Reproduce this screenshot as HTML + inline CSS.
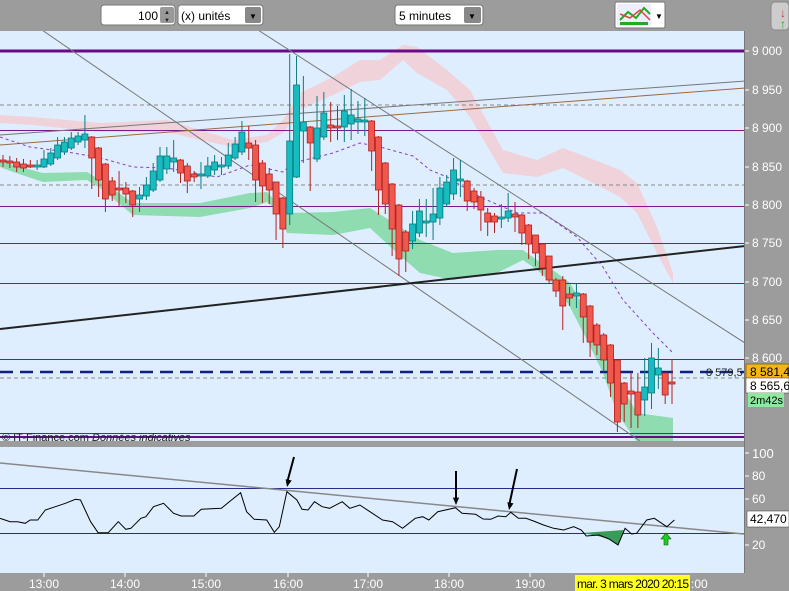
<!DOCTYPE html>
<html><head><meta charset="utf-8"><style>
body{margin:0;width:789px;height:591px;overflow:hidden;background:#9c9c9c;font-family:"Liberation Sans",sans-serif}
svg{display:block}
</style></head><body>
<svg id="s" width="789" height="591" xmlns="http://www.w3.org/2000/svg" font-family="Liberation Sans, sans-serif">
<rect width="789" height="591" fill="#9c9c9c"/>
<!-- toolbar -->
<rect x="101" y="5" width="74" height="20" rx="3" fill="#fff" stroke="#777"/>
<text x="158" y="20" font-size="12" text-anchor="end">100</text>
<rect x="160" y="7" width="14" height="16" rx="2" fill="#999"/>
<text x="167" y="14" font-size="6" text-anchor="middle" fill="#222">▲</text>
<text x="167" y="22" font-size="6" text-anchor="middle" fill="#222">▼</text>
<rect x="178" y="5" width="85" height="20" rx="3" fill="#fff" stroke="#777"/>
<text x="181" y="20" font-size="12">(x) unités</text>
<rect x="245" y="7" width="16" height="16" rx="2" fill="#888"/>
<text x="253" y="19" font-size="8" text-anchor="middle">▼</text>
<rect x="395" y="5" width="88" height="20" rx="3" fill="#fff" stroke="#777"/>
<text x="399" y="20" font-size="12">5 minutes</text>
<rect x="464" y="7" width="17" height="16" rx="2" fill="#888"/>
<text x="472" y="19" font-size="8" text-anchor="middle">▼</text>
<rect x="615" y="2" width="50" height="26" rx="2" fill="#fff" stroke="#777"/>
<rect x="617" y="4" width="34" height="22" fill="#eef"/>
<polyline points="620,20 628,12 636,18 644,8 650,14" fill="none" stroke="#2a2" stroke-width="2"/>
<polyline points="620,14 630,18 640,10 650,20" fill="none" stroke="#d44" stroke-width="1.5"/>
<rect x="620" y="22" width="28" height="3" fill="#2a2"/>
<text x="659" y="19" font-size="8" text-anchor="middle">▼</text>
<rect x="771" y="2" width="18" height="28" rx="4" fill="#ccc" stroke="#888"/>
<text x="780" y="17" font-size="12" fill="#c33">↓</text>
<text x="780" y="28" font-size="12" fill="#2a2">↑</text>
<!-- main chart -->
<rect x="0" y="31" width="744" height="410" fill="#deeefe"/>
<rect x="0" y="447" width="744" height="126" fill="#deeefe"/>
<line x1="744.5" y1="31" x2="744.5" y2="573" stroke="#777"/>
<g id="main"></g>
<g id="ind"></g>
<!-- axes labels -->
<g font-size="12" fill="#fff">
<text x="752" y="55">9 000</text><text x="752" y="94">8 950</text><text x="752" y="132">8 900</text>
<text x="752" y="171">8 850</text><text x="752" y="209">8 800</text><text x="752" y="247">8 750</text>
<text x="752" y="286">8 700</text><text x="752" y="324">8 650</text><text x="752" y="362">8 600</text>
<text x="752" y="458" font-size="13">100</text><text x="752" y="480">80</text><text x="752" y="503">60</text><text x="752" y="549">20</text>
</g>
<g stroke="#fff">
<line x1="745" y1="51" x2="749" y2="51"/><line x1="745" y1="90" x2="749" y2="90"/><line x1="745" y1="128" x2="749" y2="128"/><line x1="745" y1="167" x2="749" y2="167"/><line x1="745" y1="205" x2="749" y2="205"/><line x1="745" y1="243" x2="749" y2="243"/><line x1="745" y1="282" x2="749" y2="282"/><line x1="745" y1="320" x2="749" y2="320"/><line x1="745" y1="358" x2="749" y2="358"/>
<line x1="745" y1="453" x2="749" y2="453"/><line x1="745" y1="476" x2="749" y2="476"/><line x1="745" y1="499" x2="749" y2="499"/><line x1="745" y1="545" x2="749" y2="545"/>
</g>
<rect x="746" y="364" width="43" height="15" fill="#f3b519" stroke="#333" stroke-width="0.5"/>
<text x="750" y="376" font-size="12">8 581,4</text>
<rect x="746" y="378" width="43" height="15" fill="#fff" stroke="#333" stroke-width="0.5"/>
<text x="750" y="390" font-size="12">8 565,6</text>
<rect x="748" y="393" width="36" height="14" fill="#90e8a0"/>
<text x="750" y="404" font-size="11">2m42s</text>
<rect x="747" y="511" width="42" height="16" fill="#fff" stroke="#333" stroke-width="0.5"/>
<text x="750" y="523" font-size="12">42,470</text>
<!-- time axis -->
<g font-size="12" fill="#fff" text-anchor="middle">
<text x="44" y="588">13:00</text><text x="125" y="588">14:00</text><text x="206" y="588">15:00</text>
<text x="288" y="588">16:00</text><text x="368" y="588">17:00</text><text x="449" y="588">18:00</text><text x="530" y="588">19:00</text>
</g>
<text x="691" y="588" font-size="12" fill="#fff">:00</text>
<g stroke="#fff"><line x1="44" y1="573" x2="44" y2="577"/><line x1="125" y1="573" x2="125" y2="577"/><line x1="206" y1="573" x2="206" y2="577"/><line x1="288" y1="573" x2="288" y2="577"/><line x1="368" y1="573" x2="368" y2="577"/><line x1="449" y1="573" x2="449" y2="577"/><line x1="530" y1="573" x2="530" y2="577"/></g>
<rect x="575" y="575" width="115" height="16" fill="#ffff20"/>
<text x="577" y="588" font-size="12" textLength="112">mar. 3 mars 2020 20:15</text>
</svg>
<script>
var NS="http://www.w3.org/2000/svg",M=document.getElementById("main"),I=document.getElementById("ind");
function el(p,t,a){var e=document.createElementNS(NS,t);for(var k in a)e.setAttribute(k,a[k]);p.appendChild(e);return e;}
function band(pts){var top=pts.map(p=>p[0]+","+p[1]).join(" "),bot=pts.slice().reverse().map(p=>p[0]+","+p[2]).join(" ");return top+" "+bot;}
var cp=document.createElementNS(NS,"clipPath");cp.id="c1";el(cp,"rect",{x:0,y:31,width:744,height:410});document.querySelector("svg").appendChild(cp);
M.setAttribute("clip-path","url(#c1)");
el(M,"polygon",{points:band([[0,115,123],[33,117,125],[100,123,132],[167,120,132],[200,130,140],[233,140,147],[267,135,142],[283,120,133],[300,93,110],[333,77,95],[360,60,82],[380,60,80],[403,45,60],[417,47,73],[447,70,90],[470,90,117],[503,150,173],[537,160,177],[563,148,168],[587,157,180],[620,170,197],[637,183,213],[657,227,253],[673,273,283]]),fill:"#f0d2da"});
el(M,"polygon",{points:band([[0,160,167],[13,165,172],[43,173,182],[87,172,180],[100,180,188],[133,203,215],[200,203,217],[250,193,208],[267,192,202],[277,203,210],[287,213,233],[333,212,235],[370,208,228],[397,225,253],[420,240,273],[453,253,280],[497,250,273],[523,250,260],[537,260,270],[557,273,287],[570,283,307],[587,313,340],[603,347,373],[617,377,413],[637,413,442],[673,418,442]]),fill:"#8edcb0"});
[[105,"#888"],[185,"#888"],[378,"#888"]].forEach(function(l){el(M,"line",{x1:0,y1:l[0],x2:744,y2:l[0],stroke:l[1],"stroke-dasharray":"4,3"});});
[130,206,243,283,359,433].forEach(function(y){el(M,"line",{x1:0,y1:y+0.5,x2:744,y2:y+0.5,stroke:"#7a1a8a"});});
el(M,"line",{x1:0,y1:51,x2:744,y2:51,stroke:"#6a0a8a","stroke-width":3});
el(M,"line",{x1:0,y1:437,x2:744,y2:437,stroke:"#6a0a8a","stroke-width":2});
el(M,"line",{x1:42,y1:30,x2:640,y2:441,stroke:"#777"});
el(M,"line",{x1:258,y1:30,x2:745,y2:343,stroke:"#777"});
el(M,"line",{x1:0,y1:135,x2:745,y2:81,stroke:"#777"});
el(M,"line",{x1:0,y1:145,x2:745,y2:88,stroke:"#9a6a40"});
el(M,"line",{x1:0,y1:329,x2:745,y2:246,stroke:"#222","stroke-width":2});
el(M,"polyline",{points:"0,137 30,147 67,152 97,157 133,167 167,168 217,177 250,165 283,172 293,163 333,153 360,143 380,147 413,156 430,170 447,177 480,197 517,213 543,213 577,237 603,267 623,300 653,333 672,352",fill:"none",stroke:"#8a3ac8","stroke-dasharray":"3,3"});
el(M,"line",{x1:0,y1:372,x2:744,y2:372,stroke:"#102080","stroke-width":2.5,"stroke-dasharray":"13,7"});
var C=[["r",160,162,155,167],["r",161,163,156,168],["r",162,167,158,172],["r",164,168,159,172],["r",165,166,160,168],["g",165,166,160,170],["g",159,167,150,168],["g",153,164,148,166],["g",145,158,137,160],["g",142,152,137,155],["g",138,148,132,150],["g",136,142,132,145],["g",134,140,115,148],["r",137,158,136,189],["r",148,180,147,197],["r",164,199,163,212],["r",181,195,177,201],["r",188,189,171,207],["r",188,194,182,203],["r",191,205,190,217],["g",195,199,187,212],["g",185,196,177,200],["g",171,190,163,192],["g",156,180,147,182],["g",156,169,147,174],["g",158,162,140,172],["r",160,173,159,183],["r",166,181,163,193],["r",174,177,171,182],["g",174,175,162,189],["g",166,176,157,178],["g",162,170,155,175],["g",165,166,157,175],["g",155,166,143,169],["g",144,158,137,160],["g",132,152,121,155],["r",143,148,126,160],["r",145,180,140,202],["r",163,186,160,203],["r",174,190,168,204],["r",182,214,182,240],["r",198,229,197,248],["g",141,214,54,225],["g",85,177,56,178],["g",122,131,76,163],["r",127,143,126,191],["g",128,159,96,162],["g",113,137,92,140],["r",125,128,102,142],["r",126,127,106,140],["g",111,127,95,142],["g",115,124,89,140],["g",119,122,101,134],["g",120,122,98,136],
["r",121,151,120,171],["r",137,190,136,215],["r",163,204,162,214],["r",184,229,183,256],["r",205,259,204,276],["r",232,251,230,272],["g",224,241,211,249],["g",211,233,199,237],["g",221,222,199,237],["g",214,222,188,240],["g",188,218,177,225],["g",182,204,175,207],["g",170,194,158,200],["g",179,181,160,197],["r",181,201,180,211],["r",191,202,188,209],["r",197,210,191,231],["r",213,222,208,236],["r",216,222,213,233],["g",217,218,204,228],["g",211,218,193,222],["r",214,217,202,232],["r",215,233,214,245],["r",225,244,224,259],["r",235,253,236,266],["r",244,268,243,276],["r",256,280,256,283],["r",280,291,278,297],["r",280,306,276,330],["r",294,298,287,306],["g",293,296,284,308],["r",294,317,293,343],["r",306,342,305,357],["r",325,345,323,355],["r",335,360,333,372],["r",345,383,344,397],["r",360,422,359,432],["r",383,404,382,422],["r",391,394,372,428],["r",392,415,373,428],["g",387,400,358,416],["g",358,393,343,409],["g",368,375,348,389],["r",373,395,373,404],["r",382,384,359,404]];
var n=C.length,dx=(672-3)/(n-1);
C.forEach(function(c,i){var x=3+i*dx,red=c[0]=="r",fc=red?"#f0584e":"#17bcc0",sc=red?"#b02020":"#0a7a80";
el(M,"line",{x1:x,y1:c[3],x2:x,y2:c[4],stroke:sc});
el(M,"rect",{x:x-3,y:c[1],width:6,height:Math.max(2,c[2]-c[1]),fill:fc,stroke:sc,"stroke-width":0.8});});
var t=el(M,"text",{x:706,y:376,"font-size":11,fill:"#222"});t.textContent="8 579,5";
var t2=el(M,"text",{x:2,y:441,"font-size":11,fill:"#222"});t2.innerHTML='© IT-Finance.com <tspan font-style="italic">Données indicatives</tspan>';
el(I,"line",{x1:0,y1:488.5,x2:744,y2:488.5,stroke:"#2a2a8a"});
el(I,"line",{x1:0,y1:533.5,x2:744,y2:533.5,stroke:"#2a2a8a"});
var R=[[0,295],[10,300],[20,305],[35,305],[50,310],[60,300],[75,300],[90,270],[110,260],[130,250],[150,238],[160,240],[180,305],[195,338],[215,338],[235,305],[250,328],[260,325],[280,295],[290,290],[305,260],[325,250],[345,280],[360,288],[385,288],[400,268],[440,265],[460,240],[478,218],[490,275],[505,298],[530,300],[545,337],[555,320],[570,215],[590,240],[600,268],[612,270],[625,245],[640,260],[655,265],[680,245],[695,265],[715,255],[740,280],[760,300],[780,305],[800,325],[825,295],[840,290],[852,300],[870,275],[905,263],[918,280],[945,283],[960,297],[975,298],[990,288],[1005,290],[1015,277],[1030,295],[1045,295],[1060,303],[1080,315],[1100,325],[1120,330],[1140,320],[1155,330],[1165,348],[1190,345],[1210,357],[1228,375],[1242,325],[1255,342],[1265,340],[1285,300],[1300,295],[1325,320],[1340,300]].map(p=>[(p[0]/1.987).toFixed(1),(420+p[1]/3).toFixed(1)]);
el(I,"polygon",{points:"582,533 598,536 609,539 618,545 624,530",fill:"#3a9a5a"});
el(I,"line",{x1:0,y1:463,x2:744,y2:534,stroke:"#888","stroke-width":1.5});
el(I,"polyline",{points:R.map(p=>p.join(",")).join(" "),fill:"none",stroke:"#000"});
[[294,457,287,487],[456,471,456,505],[517,469,509,510]].forEach(function(a){
el(I,"line",{x1:a[0],y1:a[1],x2:a[2],y2:a[3]-4,stroke:"#000","stroke-width":2});
var ang=Math.atan2(a[3]-a[1],a[2]-a[0]),x=a[2],y=a[3];
el(I,"polygon",{points:x+","+y+" "+(x-8*Math.cos(ang-0.4))+","+(y-8*Math.sin(ang-0.4))+" "+(x-8*Math.cos(ang+0.4))+","+(y-8*Math.sin(ang+0.4)),fill:"#000"});});
el(I,"polygon",{points:"666,533 661,539 664,539 664,545 668,545 668,539 671,539",fill:"#2c2",stroke:"#060","stroke-width":0.6});
</script>
</body></html>
